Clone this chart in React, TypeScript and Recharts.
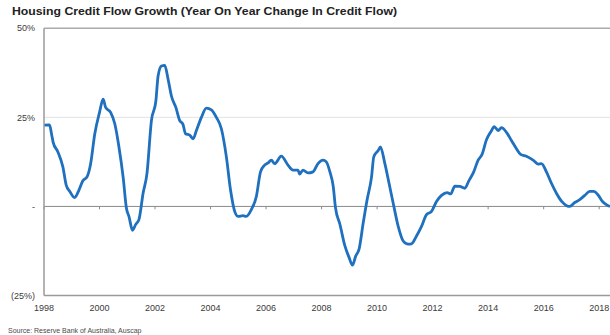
import { LineChart, Line, XAxis, YAxis, ReferenceLine } from 'recharts';

// Housing credit flow growth, YoY % change
const YEARS = [
  1998.0, 1998.2, 1998.27, 1998.33, 1998.5, 1998.68, 1998.8, 1998.93, 1999.1, 1999.26,
  1999.4, 1999.55, 1999.68, 1999.83, 2000.0, 2000.13, 2000.22, 2000.4, 2000.55, 2000.7,
  2000.85, 2000.97, 2001.06, 2001.19, 2001.3, 2001.42, 2001.57, 2001.71, 2001.87, 2002.03,
  2002.11, 2002.23, 2002.35, 2002.47, 2002.59, 2002.75, 2002.89, 2003.0, 2003.1, 2003.25,
  2003.37, 2003.49, 2003.67, 2003.85, 2004.03, 2004.21, 2004.39, 2004.57, 2004.72, 2004.87,
  2004.99, 2005.17, 2005.29, 2005.47, 2005.65, 2005.8, 2005.95, 2006.07, 2006.19, 2006.31,
  2006.55, 2006.79, 2006.97, 2007.15, 2007.21, 2007.33, 2007.51, 2007.69, 2007.87, 2008.05,
  2008.17, 2008.3, 2008.42, 2008.5, 2008.66, 2008.84, 2008.99, 2009.11, 2009.23, 2009.35,
  2009.5, 2009.64, 2009.8, 2009.88, 2010.04, 2010.12, 2010.28, 2010.43, 2010.58, 2010.76,
  2010.94, 2011.12, 2011.24, 2011.42, 2011.6, 2011.78, 2011.96, 2012.14, 2012.32, 2012.52,
  2012.65, 2012.8, 2012.98, 2013.16, 2013.3, 2013.48, 2013.64, 2013.78, 2013.94, 2014.1,
  2014.22, 2014.36, 2014.48, 2014.66, 2014.84, 2015.02, 2015.17, 2015.38, 2015.62, 2015.8,
  2015.92, 2016.1, 2016.28, 2016.46, 2016.65, 2016.83, 2016.94, 2017.12, 2017.3, 2017.48,
  2017.66, 2017.81, 2017.96, 2018.12, 2018.26, 2018.39,
];

const GROWTH = [
  22.8, 22.9, 20.4, 18.0, 15.3, 11.1, 6.0, 4.2, 2.5, 4.6,
  7.2, 8.3, 12.0, 20.4, 26.4, 30.1, 27.8, 26.4, 23.2, 16.7,
  8.3, -0.5, -2.8, -6.7, -5.1, -3.7, 3.7, 9.3, 24.1, 29.6,
  36.6, 39.4, 39.6, 35.7, 31.0, 27.8, 24.1, 23.2, 20.4, 20.0,
  19.0, 21.3, 25.0, 27.6, 27.1, 25.0, 21.8, 13.9, 4.6, -1.4,
  -2.8, -2.6, -2.8, -0.9, 2.8, 9.7, 11.6, 12.2, 13.0, 12.0,
  14.1, 11.6, 10.2, 10.2, 9.1, 10.2, 9.4, 9.7, 12.0, 13.0,
  12.5, 9.7, 5.6, -0.3, -5.0, -11.1, -14.3, -16.5, -13.9, -12.0,
  -4.6, 1.9, 8.3, 13.9, 15.7, 16.7, 12.0, 6.5, 0.9, -5.6,
  -9.7, -10.6, -10.5, -8.3, -5.6, -2.3, -1.4, 1.4, 3.1, 3.9,
  3.5, 5.7, 5.6, 5.1, 7.1, 9.7, 13.0, 14.6, 18.7, 21.0,
  22.4, 21.3, 22.1, 20.8, 18.5, 16.2, 14.6, 14.1, 13.0, 11.9,
  12.0, 9.7, 6.5, 3.7, 1.4, 0.2, 0.0, 1.1, 1.9, 3.1,
  4.2, 4.2, 3.2, 1.4, 0.5, 0.0,
];

const X_TICKS = [1998, 2000, 2002, 2004, 2006, 2008, 2010, 2012, 2014, 2016, 2018];
const Y_TICKS = [-25, 0, 25, 50];

const FONT = '"Liberation Sans", Arial, sans-serif';

const data = YEARS.map((year, i) => ({ year, growth: GROWTH[i] }));

// Excel-style percent labels: zero shown as a dash, negatives in brackets
function formatPct(v: number): string {
  if (v === 0) return '-';
  if (v < 0) return `(${Math.abs(v)}%)`;
  return `${v}%`;
}

export default function App() {
  return (
    <div style={{ position: 'absolute', left: 0, top: 0, width: 610, height: 335, background: '#fff' }}>
      <LineChart
        width={610}
        height={335}
        data={data}
        margin={{ top: 28.3, right: 0, bottom: 19.5, left: 0 }}
      >
        <ReferenceLine y={25} stroke="#e2e2e2" strokeWidth={1} />
        <ReferenceLine y={50} stroke="#ababab" strokeWidth={1.5} />
        <ReferenceLine y={0} stroke="#8a8a8a" strokeWidth={1} />
        {X_TICKS.map(t => (
          <ReferenceLine
            key={t}
            segment={[{ x: t, y: 0 }, { x: t, y: -0.8 }]}
            stroke="#8a8a8a"
            strokeWidth={1}
          />
        ))}

        <XAxis
          type="number"
          dataKey="year"
          domain={[1998, 2018.39]}
          allowDataOverflow
          ticks={X_TICKS}
          interval={0}
          height={20}
          tickLine={false}
          tickSize={0}
          tickMargin={9}
          axisLine={{ stroke: '#9a9a9a', strokeWidth: 1.5 }}
          tick={{ fontSize: 9, fill: '#3a3a3a', fontFamily: FONT }}
        />
        <YAxis
          type="number"
          domain={[-25, 50]}
          ticks={Y_TICKS}
          interval={0}
          width={44}
          tickLine={false}
          tickSize={0}
          tickMargin={9}
          tickFormatter={formatPct}
          axisLine={{ stroke: '#9a9a9a', strokeWidth: 1.5 }}
          tick={{ fontSize: 9, fill: '#3a3a3a', fontFamily: FONT }}
        />

        <Line
          type="monotone"
          dataKey="growth"
          stroke="#1f70be"
          strokeWidth={2.8}
          dot={false}
          activeDot={false}
          isAnimationActive={false}
        />
      </LineChart>

      <svg
        width={610}
        height={335}
        style={{ position: 'absolute', left: 0, top: 0, pointerEvents: 'none' }}
      >
        <text
          x={12}
          y={15}
          fontFamily={FONT}
          fontSize={11.5}
          fontWeight="bold"
          fill="#222"
          textLength={385}
          lengthAdjust="spacingAndGlyphs"
        >
          Housing Credit Flow Growth (Year On Year Change In Credit Flow)
        </text>
        <text x={8} y={333} fontFamily={FONT} fontSize={7} fill="#4a4a4a">
          Source: Reserve Bank of Australia, Auscap
        </text>
      </svg>
    </div>
  );
}
